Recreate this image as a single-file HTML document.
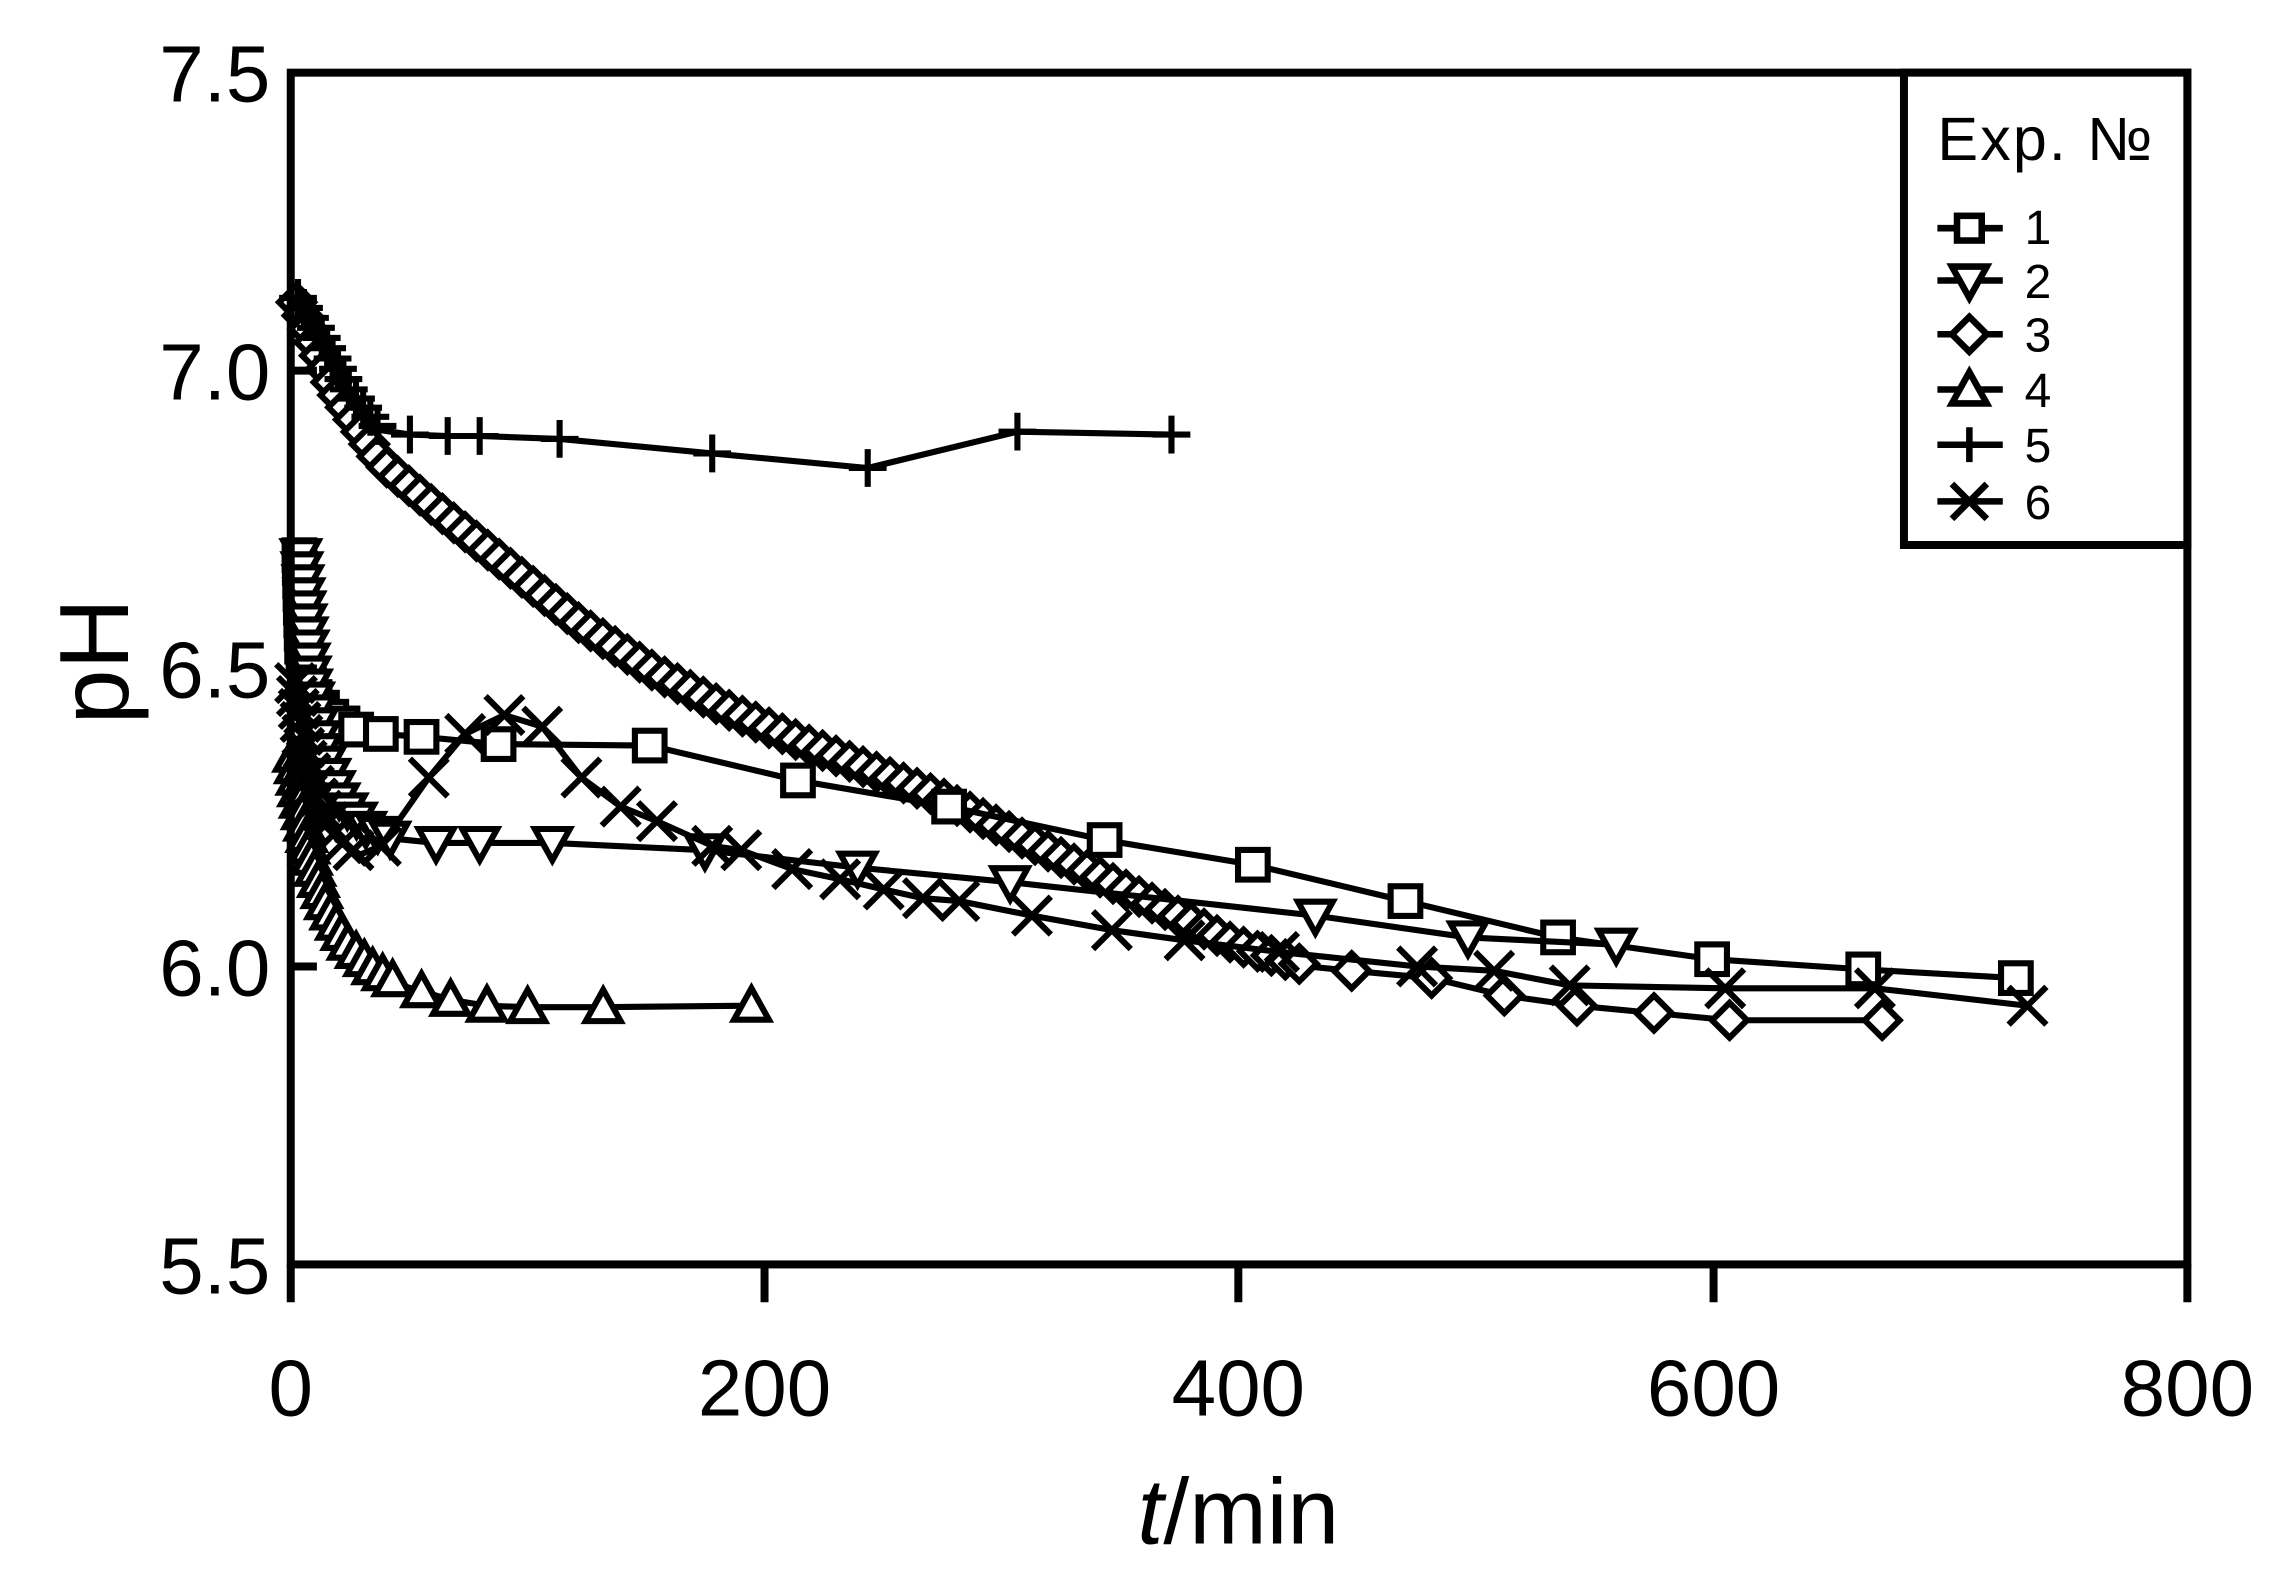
<!DOCTYPE html>
<html><head><meta charset="utf-8"><style>
html,body{margin:0;padding:0;background:#fff;}
svg{display:block;}
text{font-family:"Liberation Sans",Arial,sans-serif;fill:#000;}
</style></head><body>
<svg id="s" width="2279" height="1575" viewBox="0 0 1568 1083.7" xmlns="http://www.w3.org/2000/svg">
<rect width="1568" height="1084" fill="#fff"/>
<g id="data" fill="none" stroke="#000" stroke-width="4.2" stroke-linejoin="miter"></g>
<g stroke="#000" stroke-width="5.5" fill="none">
<rect x="200" y="50" width="1305" height="820"/>
<line x1="200" y1="870" x2="200" y2="896"/>
<line x1="526" y1="870" x2="526" y2="896"/>
<line x1="852" y1="870" x2="852" y2="896"/>
<line x1="1179" y1="870" x2="1179" y2="896"/>
<line x1="1505" y1="870" x2="1505" y2="896"/>
<line x1="200" y1="255" x2="218" y2="255"/>
<line x1="200" y1="460" x2="218" y2="460"/>
<line x1="200" y1="665" x2="218" y2="665"/>
<rect x="1310" y="50" width="195" height="325" fill="#fff"/>
</g>
<g font-size="55" text-anchor="end">
<text x="186" y="70">7.5</text>
<text x="186" y="275">7.0</text>
<text x="186" y="480">6.5</text>
<text x="186" y="685">6.0</text>
<text x="186" y="890">5.5</text>
</g>
<g font-size="55" text-anchor="middle">
<text x="200" y="974">0</text>
<text x="526" y="974">200</text>
<text x="852" y="974">400</text>
<text x="1179" y="974">600</text>
<text x="1505" y="974">800</text>
</g>
<text font-size="68" text-anchor="middle" transform="translate(88,455) rotate(-90)">pH</text>
<text font-size="64" x="852" y="1062" text-anchor="middle"><tspan font-style="italic">t</tspan>/min</text>
<text font-size="42" x="1333" y="110" textLength="148">Exp.  №</text>
<g font-size="33">
<text x="1393" y="168">1</text>
<text x="1393" y="205">2</text>
<text x="1393" y="242">3</text>
<text x="1393" y="280">4</text>
<text x="1393" y="318">5</text>
<text x="1393" y="357">6</text>
</g>
<g id="leg" fill="none" stroke="#000" stroke-width="4.5"></g>
</svg>
<script>
var NS="http://www.w3.org/2000/svg";
function el(p,n,a){var e=document.createElementNS(NS,n);for(var k in a)e.setAttribute(k,a[k]);p.appendChild(e);return e;}
function marker(g,t,x,y,s){
 s=s||10;
 if(t=='sq')el(g,'rect',{x:x-s*0.85,y:y-s*0.85,width:s*1.7,height:s*1.7,fill:'#fff'});
 else if(t=='dn')el(g,'polygon',{points:(x-s)+','+(y-s*0.8)+' '+(x+s)+','+(y-s*0.8)+' '+x+','+(y+s),fill:'#fff'});
 else if(t=='up')el(g,'polygon',{points:(x-s)+','+(y+s*0.8)+' '+(x+s)+','+(y+s*0.8)+' '+x+','+(y-s),fill:'#fff'});
 else if(t=='di')el(g,'polygon',{points:x+','+(y-s)+' '+(x+s)+','+y+' '+x+','+(y+s)+' '+(x-s)+','+y,fill:'#fff'});
 else if(t=='pl'){el(g,'line',{x1:x-s,y1:y,x2:x+s,y2:y});el(g,'line',{x1:x,y1:y-s,x2:x,y2:y+s});}
 else if(t=='x'){el(g,'line',{x1:x-s,y1:y-s,x2:x+s,y2:y+s});el(g,'line',{x1:x-s,y1:y+s,x2:x+s,y2:y-s});}
}
function dense(pts,step){
 var out=[pts[0]],acc=0;
 for(var i=1;i<pts.length;i++){var a=pts[i-1],b=pts[i],dx=b[0]-a[0],dy=b[1]-a[1],L=Math.hypot(dx,dy),d=step-acc;
  while(d<=L){out.push([a[0]+dx*d/L,a[1]+dy*d/L]);d+=step;}acc=L-(d-step);}
 return out;}
var series=[
 {t:'di',dense:[[204,208],[230,268],[262,318],[300,350],[350,390],[400,430],[450,462],[500,488],[550,510],[600,530],[650,550],[700,575],[750,600],[800,625],[850,650],[900,665]],step:10,
  tail:[[930,668],[985,673],[1035,685],[1085,692],[1138,697],[1190,702],[1295,702]]},
 {t:'pl',dense:[[205,205],[220,230],[240,268],[262,296]],step:8,tail:[[282,299],[308,300],[330,300],[385,302],[490,312],[597,322],[700,297],[806,299]]},
 {t:'sq',dense:[[206,382],[207,420],[208,450],[212,470],[218,483],[226,492],[236,498]],step:9,tail:[[245,502],[262,505],[290,507],[343,512],[447,513],[549,537],[653,555],[760,578],[862,595],[967,620],[1072,645],[1178,660],[1282,667],[1387,673]]},
 {t:'dn',dense:[[207,382],[210,420],[214,470],[222,520],[234,552],[252,570],[270,577]],step:9,tail:[[300,580],[330,580],[380,580],[485,585],[590,597],[695,607],[905,630],[1010,645],[1112,650]]},
 {t:'up',dense:[[202,520],[207,555],[214,590],[224,622],[238,648],[256,666],[276,678]],step:8,tail:[[290,682],[310,688],[335,692],[363,693],[415,693],[517,692]]},
 {t:'x',dense:[[203,470],[210,520],[220,555],[232,578],[248,588]],step:9,tail:[[262,582],[295,535],[320,505],[347,492],[373,500],[400,535],[427,555],[452,565],[490,582],[510,585],[545,598],[578,605],[608,612],[635,618],[660,620],[710,630],[765,640],[815,647],[880,655],[975,665],[1028,668],[1080,678],[1187,680],[1290,680],[1395,692]]}
];
var g=document.getElementById('data');
series.forEach(function(s){
 var all=s.dense.concat(s.tail);
 el(g,'polyline',{points:all.map(function(p){return p.join(',')}).join(' ')});
 var m=dense(s.dense,s.step).concat(s.tail);
 m.forEach(function(p){marker(g,s.t,p[0],p[1],s.t=='x'||s.t=='pl'?13:12);});
});
var lg=document.getElementById('leg');
var ty=['sq','dn','di','up','pl','x'],ys=[157,193,230,268,306,345];
ty.forEach(function(t,i){el(lg,'line',{x1:1333,y1:ys[i],x2:1378,y2:ys[i]});marker(lg,t,1355,ys[i],t=='sq'?10:12);});
</script>
</body></html>
